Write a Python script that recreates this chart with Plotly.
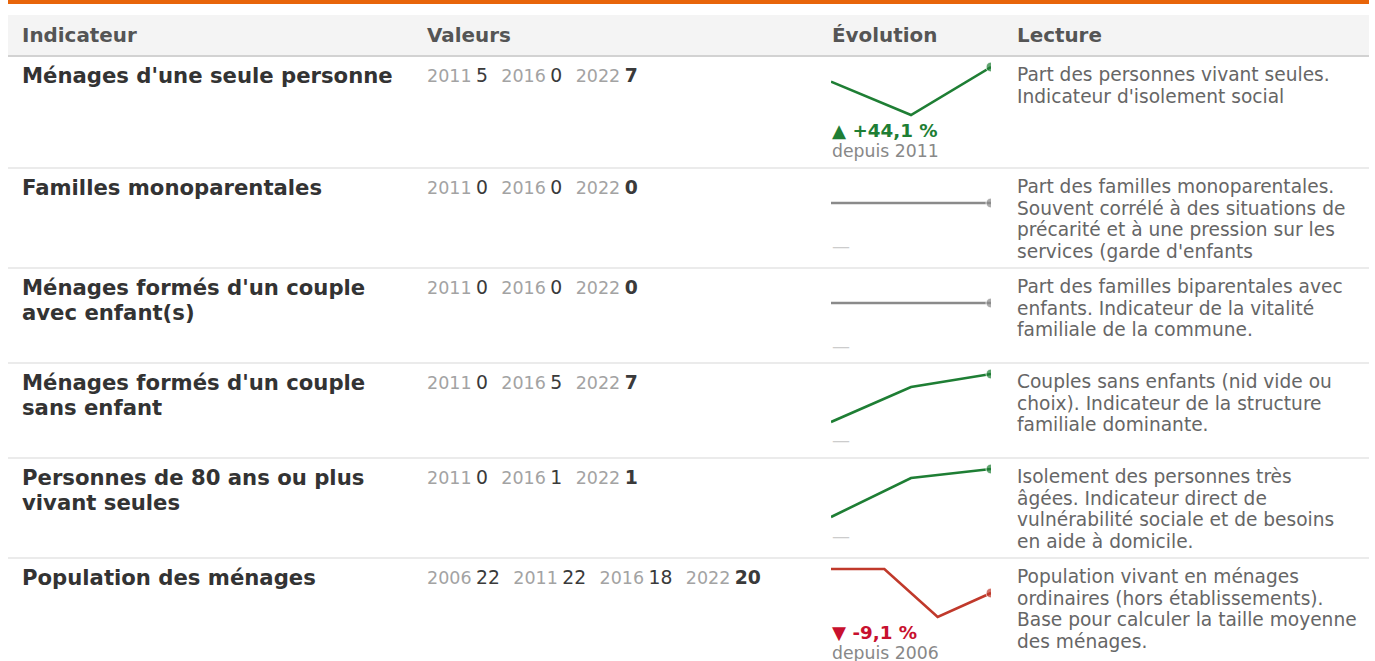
import plotly.graph_objects as go

# ---------------- data ----------------
headers = ["Indicateur", "Valeurs", "Évolution", "Lecture"]
indicators = [
    "Ménages d'une seule personne",
    "Familles monoparentales",
    "Ménages formés d'un couple\navec enfant(s)",
    "Ménages formés d'un couple\nsans enfant",
    "Personnes de 80 ans ou plus\nvivant seules",
    "Population des ménages",
]
years_short = [2011, 2016, 2022]
years_long = [2006, 2011, 2016, 2022]
row_years = [years_short, years_short, years_short, years_short, years_short, years_long]

vals_seule = [4.9, 0, 7.06]
vals_mono = [0, 0, 0]
vals_couple_enf = [0, 0, 0]
vals_couple_sans = [0, 5.1, 7.0]
vals_80 = [0, 1.04, 1.28]
vals_pop = [22, 22, 18, 20]
row_values = [vals_seule, vals_mono, vals_couple_enf, vals_couple_sans, vals_80, vals_pop]

lectures = [
    "Part des personnes vivant seules.\nIndicateur d'isolement social",
    "Part des familles monoparentales.\nSouvent corrélé à des situations de\nprécarité et à une pression sur les\nservices (garde d'enfants",
    "Part des familles biparentales avec\nenfants. Indicateur de la vitalité\nfamiliale de la commune.",
    "Couples sans enfants (nid vide ou\nchoix). Indicateur de la structure\nfamiliale dominante.",
    "Isolement des personnes très\nâgées. Indicateur direct de\nvulnérabilité sociale et de besoins\nen aide à domicile.",
    "Population vivant en ménages\nordinaires (hors établissements).\nBase pour calculer la taille moyenne\ndes ménages.",
]

# ---------------- layout constants ----------------
W, H = 1375, 661
FONT = "DejaVu Sans"
TABLE_L, TABLE_R = 8, 1369
COL_X = [20, 425, 830, 1015]
ROW_TOPS = [57, 169, 269, 364, 459, 559]
SPARK_L, SPARK_R = 831, 991
SPARK_H = 48
SPARK_OFF = 10
PAD = 5

GREEN = "#1e7e34"
RED_LINE = "#c0392b"
RED_TXT = "#c8102e"
GREY_LINE = "#8a8a8a"


def xp(x):
    return x / W


def yp(y):
    return 1 - y / H


fig = go.Figure()
shapes = []
annotations = []

# top orange bar
shapes.append(dict(type="rect", xref="paper", yref="paper", x0=xp(TABLE_L), x1=xp(TABLE_R),
                   y0=yp(0), y1=yp(4), fillcolor="#e8650a", line_width=0, layer="below"))
# header background
shapes.append(dict(type="rect", xref="paper", yref="paper", x0=xp(TABLE_L), x1=xp(TABLE_R),
                   y0=yp(15), y1=yp(55), fillcolor="#f4f4f4", line_width=0, layer="below"))
shapes.append(dict(type="line", xref="paper", yref="paper", x0=xp(TABLE_L), x1=xp(TABLE_R),
                   y0=yp(56), y1=yp(56), line=dict(color="#d2d2d2", width=2), layer="below"))
for h, x in zip(headers, COL_X):
    annotations.append(dict(text=f"<b>{h}</b>", x=xp(x), y=yp(35.5), xref="paper", yref="paper",
                            xanchor="left", yanchor="middle", showarrow=False,
                            font=dict(family=FONT, size=19.9, color="#555555")))

# row separators
for t in ROW_TOPS[1:]:
    shapes.append(dict(type="line", xref="paper", yref="paper", x0=xp(TABLE_L), x1=xp(TABLE_R),
                       y0=yp(t - 1), y1=yp(t - 1), line=dict(color="#ebebeb", width=2), layer="below"))


def fmt_num(v):
    return str(int(round(v)))


def fmt_pct(p):
    s = f"{abs(p):.1f}".replace(".", ",")
    return ("+" if p >= 0 else "-") + s + " %"


for i, (label, yrs, vals, lec, top) in enumerate(zip(indicators, row_years, row_values, lectures, ROW_TOPS)):
    # label
    for j, line in enumerate(label.split("\n")):
        annotations.append(dict(text=f"<b>{line}</b>", x=xp(COL_X[0]), y=yp(top + 18.5 + 25 * j),
                                xref="paper", yref="paper", xanchor="left", yanchor="middle",
                                showarrow=False, font=dict(family=FONT, size=21.2, color="#333333")))
    # values
    parts = []
    for k, (yr, v) in enumerate(zip(yrs, vals)):
        num = fmt_num(v)
        if k == len(vals) - 1:
            num = f"<b>{num}</b>"
        parts.append(f'<span style="font-size:17.5px;color:#a3a3a3">{yr}</span>'
                     f'<span style="font-size:14px">\u00a0</span>'
                     f'<span style="font-size:18.8px;color:#3a3a3a">{num}</span>')
    sep = '<span style="font-size:21px">\u00a0\u00a0</span>'
    annotations.append(dict(text=sep.join(parts), x=xp(COL_X[1]), y=yp(top + 17.5),
                            xref="paper", yref="paper", xanchor="left", yanchor="middle",
                            showarrow=False, font=dict(family=FONT, size=18, color="#333333")))
    # lecture
    for j, line in enumerate(lec.split("\n")):
        annotations.append(dict(text=line, x=xp(COL_X[3]), y=yp(top + 17.5 + 21.7 * j),
                                xref="paper", yref="paper", xanchor="left", yanchor="middle",
                                showarrow=False, font=dict(family=FONT, size=18.6, color="#666666")))

    # sparkline
    first, last = vals[0], vals[-1]
    if last > first:
        col = GREEN
    elif last < first:
        col = RED_LINE
    else:
        col = GREY_LINE
    vmin, vmax = min(vals), max(vals)
    if vmax == vmin:
        k_scale = 1.0 / SPARK_H
        lo, hi = vmin - 0.5 - PAD * k_scale, vmax + 0.5 + PAD * k_scale
    else:
        k_scale = (vmax - vmin) / SPARK_H
        lo, hi = vmin - PAD * k_scale, vmax + PAD * k_scale
    btop = top + SPARK_OFF
    ax = i + 2
    n = len(vals)
    fig.add_trace(go.Scatter(
        x=list(range(n)), y=vals, mode="lines+markers",
        line=dict(color=col, width=2.6),
        marker=dict(color=col, size=[0] * (n - 1) + [10]),
        xaxis=f"x{ax}", yaxis=f"y{ax}", hoverinfo="skip", showlegend=False,
    ))
    fig.layout[f"xaxis{ax}"] = dict(domain=[xp(SPARK_L), xp(SPARK_R)], range=[0, n - 1],
                                    visible=False, fixedrange=True, anchor=f"y{ax}")
    fig.layout[f"yaxis{ax}"] = dict(domain=[yp(btop + SPARK_H + PAD), yp(btop - PAD)], range=[lo, hi],
                                    visible=False, fixedrange=True, anchor=f"x{ax}")

    # change text
    if first != 0:
        pct = (last / first - 1) * 100
        arrow = "▲" if pct >= 0 else "▼"
        tcol = GREEN if pct >= 0 else RED_TXT
        annotations.append(dict(text=f"<b>{arrow} {fmt_pct(pct)}</b>", x=xp(COL_X[2]), y=yp(top + 73),
                                xref="paper", yref="paper", xanchor="left", yanchor="middle",
                                showarrow=False, font=dict(family=FONT, size=18.3, color=tcol)))
        annotations.append(dict(text=f"depuis {yrs[0]}", x=xp(COL_X[2]), y=yp(top + 94),
                                xref="paper", yref="paper", xanchor="left", yanchor="middle",
                                showarrow=False, font=dict(family=FONT, size=17.3, color="#888888")))
    else:
        annotations.append(dict(text="—", x=xp(COL_X[2]), y=yp(top + 76),
                                xref="paper", yref="paper", xanchor="left", yanchor="middle",
                                showarrow=False, font=dict(family=FONT, size=18, color="#cccccc")))

fig.update_layout(
    width=W, height=H, margin=dict(l=0, r=0, t=0, b=0),
    paper_bgcolor="white", plot_bgcolor="white",
    xaxis=dict(visible=False), yaxis=dict(visible=False),
    shapes=shapes, annotations=annotations, showlegend=False,
)

fig.write_html("out.html", config={"displayModeBar": False},
               post_script="document.body.style.margin='0';document.body.style.overflow='hidden';")
